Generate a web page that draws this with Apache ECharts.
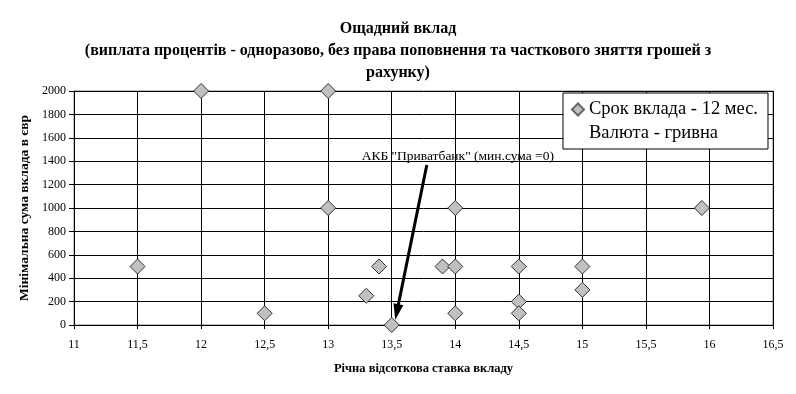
<!DOCTYPE html>
<html><head><meta charset="utf-8">
<script src="https://cdn.jsdelivr.net/npm/echarts@6/dist/echarts.min.js"></script>
<style>html,body{margin:0;padding:0;background:#fff}#c{width:796px;height:394px}</style>
</head><body><div id="c"></div>
<script>
const rates = [11.5, 12, 12.5, 13, 13, 13.3, 13.4, 13.5, 13.9, 14, 14, 14, 14.5, 14.5, 14.5, 15, 15, 15.94];
const minSums = [500, 2000, 100, 2000, 1000, 250, 500, 0, 500, 1000, 500, 100, 500, 200, 100, 500, 300, 1000];
const seriesName = 'Срок вклада - 12 мес.';
const seriesName2 = 'Валюта - гривна';
const titleText = 'Ощадний вклад\n(виплата процентів - одноразово, без права поповнення та часткового зняття грошей з\nрахунку)';
const annotText = 'АКБ "Приватбанк" (мин.сума =0)';
const arrowFrom = [13.776, 1368];
const arrowTo = [13.54, 110];

const font = 'Liberation Serif, Times New Roman, serif';
const chart = echarts.init(document.getElementById('c'), null, {renderer: 'canvas'});
chart.setOption({
  animation: false,
  backgroundColor: '#fff',
  title: {
    text: titleText, left: 'center', top: 13,
    textStyle: {fontFamily: font, fontSize: 16, fontWeight: 'bold', color: '#000', lineHeight: 22}
  },
  legend: {
    orient: 'vertical', left: 563, top: 93, width: 204,
    backgroundColor: '#fff', borderColor: '#000', borderWidth: 1, borderRadius: 0,
    padding: [7, 10, 6, 8], itemGap: 5, itemWidth: 12, itemHeight: 12,
    textStyle: {fontFamily: font, fontSize: 18.5, color: '#000'},
    data: [{name: seriesName, icon: 'diamond', itemStyle: {borderColor: '#666'}}, {name: seriesName2, icon: 'none'}]
  },
  grid: {left: 74, right: 23, top: 91, bottom: 69, show: true, borderColor: '#808080', borderWidth: 1},
  xAxis: {
    type: 'value', min: 11, max: 16.5, interval: 0.5,
    name: 'Річна відсоткова ставка вкладу', nameLocation: 'middle', nameGap: 37,
    nameTextStyle: {fontFamily: font, fontSize: 12.5, fontWeight: 'bold', color: '#000'},
    axisLine: {onZero: false, lineStyle: {color: '#000'}},
    axisTick: {show: true, length: 4, lineStyle: {color: '#000'}},
    axisLabel: {fontFamily: font, fontSize: 12, color: '#000', margin: 14,
      formatter: v => String(v).replace('.', ',')},
    splitLine: {show: true, lineStyle: {color: '#000', width: 1}}
  },
  yAxis: {
    type: 'value', min: 0, max: 2000, interval: 200,
    name: 'Мінімальна сума вклада в євр', nameLocation: 'middle', nameGap: 39,
    nameTextStyle: {fontFamily: font, fontSize: 13.5, fontWeight: 'bold', color: '#000'},
    axisLine: {show: true, lineStyle: {color: '#000'}},
    axisTick: {show: true, length: 5, lineStyle: {color: '#000'}},
    axisLabel: {fontFamily: font, fontSize: 12, color: '#000', margin: 8, formatter: v => String(v)},
    splitLine: {show: true, lineStyle: {color: '#000', width: 1}}
  },
  series: [
    {
      name: seriesName, type: 'scatter', symbol: 'diamond', symbolSize: 15,
      itemStyle: {color: '#c0c0c0', borderColor: '#333', borderWidth: 1, opacity: 1},
      data: rates.map((r, i) => [r, minSums[i]]),
      z: 5,
      markLine: {
        silent: true, symbol: ['none', 'triangle'], symbolSize: [10, 16],
        lineStyle: {color: '#000', width: 3, type: 'solid'},
        label: {show: false},
        data: [[{coord: arrowFrom}, {coord: arrowTo}]]
      },
      markPoint: {
        silent: true, symbol: 'rect', symbolSize: 1,
        itemStyle: {color: 'rgba(0,0,0,0)'},
        label: {show: true, formatter: annotText, fontFamily: font, fontSize: 13.5, color: '#000', position: 'inside'},
        data: [{coord: [14.02, 1440]}]
      }
    },
    {name: seriesName2, type: 'scatter', data: []}
  ]
});
</script></body></html>
